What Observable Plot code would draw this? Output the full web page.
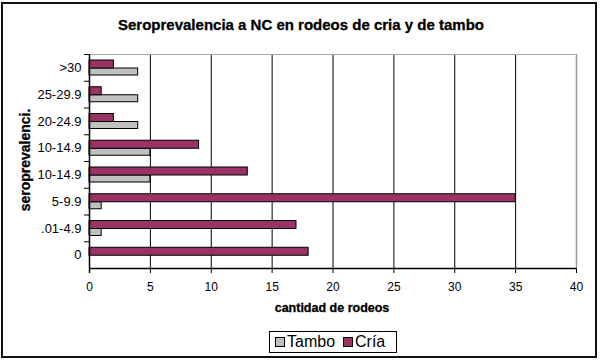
<!DOCTYPE html>
<html>
<head>
<meta charset="utf-8">
<script src="https://cdn.jsdelivr.net/npm/d3@7"></script>
<script src="https://cdn.jsdelivr.net/npm/@observablehq/plot@0.6"></script>
<style>
  html, body { margin: 0; padding: 0; background: #fff; }
  #wrap { position: relative; width: 600px; height: 362px; overflow: hidden; font-family: "Liberation Sans", Arial, sans-serif; }
  #wrap svg { position: absolute; left: 0; top: 0; }
  .ov { position: absolute; z-index: 2; white-space: nowrap; }
  #border { position: absolute; left: 1px; top: 2px; width: 596px; height: 356px; border: 2px solid #111; box-sizing: border-box; z-index: 3; }
  #title { left: 0; width: 602px; top: 16px; text-align: center; font-weight: bold; font-size: 15px; color: #000; -webkit-text-stroke: 0.3px #000; }
  #ylab { left: 25px; top: 160px; transform: translate(-50%, -50%) rotate(-90deg); font-weight: bold; font-size: 14px; -webkit-text-stroke: 0.3px #000; }
  #xlab { left: 332px; top: 308px; transform: translate(-50%, -50%); font-weight: bold; font-size: 12.5px; -webkit-text-stroke: 0.3px #000; }
  #legend { left: 269px; top: 331px; width: 128px; height: 22px; border: 1px solid #000; box-sizing: border-box; font-size: 16px; display: flex; align-items: center; padding-left: 5px; }
  .sw { display: inline-block; width: 8px; height: 8px; border: 1px solid #000; margin-right: 2px; }
</style>
</head>
<body>
<div id="wrap">
  <div id="border"></div>
  <div class="ov" id="title">Seroprevalencia a NC en rodeos de cria y de tambo</div>
  <div class="ov" id="ylab">seroprevalenci.</div>
  <div class="ov" id="xlab">cantidad de rodeos</div>
  <div class="ov" id="legend"></div>
</div>
<script>
// Data (top to bottom as shown)
const categories = [">30", "25-29.9", "20-24.9", "10-14.9", "10-14.9", "5-9.9", ".01-4.9", "0"];
const cria  = [2, 1, 2, 9, 13, 35, 17, 18];
const tambo = [4, 4, 4, 5, 5, 1, 1, 0];
const seriesNames = ["Tambo", "Cría"];
const seriesColors = ["#C0C0C0", "#993366"];
const xTicks = [0, 5, 10, 15, 20, 25, 30, 35, 40];

const idx = d3.range(categories.length);
const rowsCria = idx.map(i => ({i, v: cria[i]}));
const rowsTambo = idx.map(i => ({i, v: tambo[i]}));

const W = 600, H = 362;
const mTop = 54, mBottom = 94, mLeft = 89, mRight = 24;
const band = (H - mTop - mBottom) / categories.length;

const chart = Plot.plot({
  width: W,
  height: H,
  marginTop: mTop,
  marginBottom: mBottom,
  marginLeft: mLeft,
  marginRight: mRight,
  style: {fontFamily: "'Liberation Sans', Arial, sans-serif", background: "transparent", color: "#000"},
  x: {domain: [0, 40], ticks: xTicks},
  y: {type: "band", domain: idx, padding: 0, round: false},
  marks: [
    // gridlines
    Plot.ruleX(xTicks.filter(t => t > 0 && t < 40), {stroke: "#000", strokeWidth: 1}),
    // plot frame (gray top and right)
    Plot.ruleX([40], {stroke: "#999", strokeWidth: 1.5}),
    Plot.ruleY([0], {x1: 0, x2: 40, dy: -band / 2, stroke: "#aaa", strokeWidth: 1}),
    // bars
    Plot.barX(rowsTambo, {y: "i", x: "v", fill: seriesColors[0], stroke: "#000", strokeWidth: 1, insetTop: 14, insetBottom: band - 21}),
    Plot.barX(rowsCria, {y: "i", x: "v", fill: seriesColors[1], stroke: "#000", strokeWidth: 1, insetTop: 6, insetBottom: band - 14}),
    // left axis line and category boundary ticks
    Plot.ruleX([0], {stroke: "#000", strokeWidth: 1.5, insetBottom: -5}),
    Plot.ruleY(idx, {y: d => d, x1: 0, x2: 0, insetLeft: -5, dy: -band / 2, stroke: "#000", strokeWidth: 1}),
    // bottom axis line
    Plot.ruleY([idx[idx.length - 1]], {x1: 0, x2: 40, dy: band / 2, stroke: "#000", strokeWidth: 1.5}),
    Plot.axisY({tickSize: 0, tickPadding: 8, fontSize: 13, tickFormat: i => categories[i], label: null}),
    Plot.axisX({ticks: xTicks, tickSize: 5, tickPadding: 9, fontSize: 12, label: null, stroke: "#000"})
  ]
});
document.getElementById("wrap").appendChild(chart);

// legend
const lg = document.getElementById("legend");
seriesNames.forEach((name, k) => {
  const sw = document.createElement("span");
  sw.className = "sw";
  sw.style.background = seriesColors[k];
  const t = document.createElement("span");
  t.textContent = name;
  t.style.marginRight = k === 0 ? "8px" : "0";
  lg.appendChild(sw);
  lg.appendChild(t);
});
</script>
</body>
</html>
